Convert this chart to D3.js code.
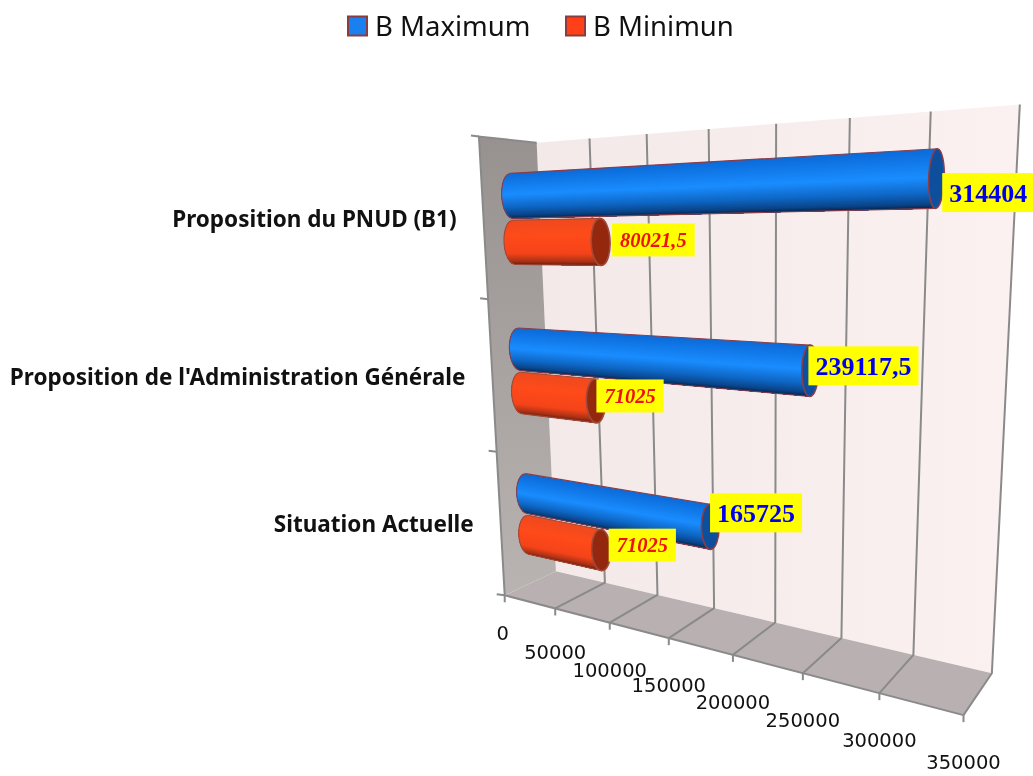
<!DOCTYPE html>
<html><head><meta charset="utf-8">
<script src="https://d3js.org/d3.v7.min.js"></script>
<style>html,body{margin:0;padding:0;background:#fff}svg{display:block;filter:blur(0.45px)}</style>
</head><body><svg id="c" width="1033" height="776"></svg>
<script>
const categories = ["Situation Actuelle","Proposition de l'Administration Générale","Proposition du PNUD (B1)"];
const seriesNames = ["B Maximum","B Minimun"];
const bMaximum = [165725,239117.5,314404];
const bMinimum = [71025,71025,80021.5];
const maxLabels = ["165725","239117,5","314404"];
const minLabels = ["71025","71025","80021,5"];
const xTicks = [0,50000,100000,150000,200000,250000,300000,350000];

// camera calibration: (value fraction, depth, height) -> screen
const anchors = [
 [0,0,0,505,596],[1,0,0,964,715],[0,1,0,556,572],[1,1,0,992,674],
 [0,0,1,478,137],[0,1,1,538,142],[1,1,1,1020,105],
 [3/7,0,0,669,637],[3/7,1,0,713,607],[3/7,1,1,708,129]];
function solve(A,b){
  const n=b.length, M=A.map((r,i)=>[...r,b[i]]);
  for(let i=0;i<n;i++){
    let p=i; for(let k=i+1;k<n;k++) if(Math.abs(M[k][i])>Math.abs(M[p][i])) p=k;
    [M[i],M[p]]=[M[p],M[i]];
    for(let k=i+1;k<n;k++){const f=M[k][i]/M[i][i]; for(let j=i;j<=n;j++) M[k][j]-=f*M[i][j];}
  }
  const x=Array(n).fill(0);
  for(let i=n-1;i>=0;i--){let s=M[i][n]; for(let j=i+1;j<n;j++) s-=M[i][j]*x[j]; x[i]=s/M[i][i];}
  return x;
}
const rows=[],rhs=[];
anchors.forEach(([X,Y,Z,x,y])=>{
  rows.push([X,Y,Z,1,0,0,0,0,-x*X,-x*Y,-x*Z]); rhs.push(x);
  rows.push([0,0,0,0,X,Y,Z,1,-y*X,-y*Y,-y*Z]); rhs.push(y);
});
const ATA=d3.range(11).map(i=>d3.range(11).map(j=>d3.sum(rows,r=>r[i]*r[j])));
const ATb=d3.range(11).map(i=>d3.sum(rows,(r,k)=>r[i]*rhs[k]));
const P=solve(ATA,ATb);
function proj(u,d,h){
  const w=P[8]*u+P[9]*d+P[10]*h+1;
  return [(P[0]*u+P[1]*d+P[2]*h+P[3])/w,(P[4]*u+P[5]*d+P[6]*h+P[7])/w];
}

const svg=d3.select("#c");
const defs=svg.append("defs");
const uScale=d3.scaleLinear().domain([0,350000]).range([0,1]);
const hScale=d3.scaleBand().domain(d3.range(categories.length)).range([0,1]);
const line=d3.line();
const poly=pts=>line(pts)+"Z";

const g1=defs.append("linearGradient").attr("id","wallG").attr("x1",0).attr("x2",1).attr("y1",0).attr("y2",0);
g1.append("stop").attr("offset",0).attr("stop-color","#f4e9e9");
g1.append("stop").attr("offset",1).attr("stop-color","#fbf1f1");
const g2=defs.append("linearGradient").attr("id","sideG").attr("x1",0).attr("x2",0).attr("y1",0).attr("y2",1);
g2.append("stop").attr("offset",0).attr("stop-color","#97918f");
g2.append("stop").attr("offset",1).attr("stop-color","#b9b3b2");

const axisGrey="#8a8a8a";
svg.append("path").attr("d",poly([proj(0,1,0),proj(1,1,0),proj(1,1,1),proj(0,1,1)])).attr("fill","url(#wallG)");
svg.append("path").attr("d",poly([proj(0,0,0),proj(1,0,0),proj(1,1,0),proj(0,1,0)])).attr("fill","#b9b1b1");
svg.append("path").attr("d",poly([proj(0,0,0),proj(0,1,0),proj(0,1,1),proj(0,0,1)])).attr("fill","url(#sideG)");

xTicks.forEach(v=>{
  const u=uScale(v);
  if(v>0) svg.append("path").attr("d",line([proj(u,0,0),proj(u,1,0),proj(u,1,1)])).attr("fill","none").attr("stroke",axisGrey).attr("stroke-width",2);
  const f=proj(u,0,0);
  svg.append("line").attr("x1",f[0]).attr("y1",f[1]).attr("x2",f[0]).attr("y2",f[1]+7).attr("stroke",axisGrey).attr("stroke-width",2);
  const dy = v===0?38:(v===50000?44:47);
  svg.append("text").attr("x",f[0]-(v===0?2:0)).attr("y",f[1]+dy).attr("dy","0.35em").attr("text-anchor","middle")
    .attr("font-family","DejaVu Sans").attr("font-size",19.5).attr("fill","#111").text(v);
});
svg.append("path").attr("d",line([proj(0,1,1),proj(0,0,1),proj(0,0,0),proj(1,0,0)])).attr("fill","none").attr("stroke",axisGrey).attr("stroke-width",2);
d3.range(categories.length+1).forEach(i=>{
  const p=proj(0,0,i/categories.length);
  svg.append("line").attr("x1",p[0]-8).attr("y1",p[1]-1).attr("x2",p[0]).attr("y2",p[1]).attr("stroke",axisGrey).attr("stroke-width",2);
});

const palettes=[
 {stops:[[-1,"#0c6ad8"],[-0.05,"#1a8dff"],[0.5,"#0f66c4"],[0.85,"#0a4488"],[1,"#052650"]],cap:"#0d4f9c",edge:"#8a3d4a"},
 {stops:[[-1,"#ee4a20"],[-0.3,"#ff4b1a"],[0.5,"#f5441a"],[0.85,"#a83216"],[1,"#6e1c0c"]],cap:"#94280f",edge:"#a04a3a"}];
const depth=0.5, radiusH=0.0475, groupShift=[0.0495,-0.0495], nStrips=44;
const rxScale=d3.scaleLinear().domain([0,1]).range([10,7.5]);
const layers=svg.append("g");
const labelLayer=svg.append("g");
const boxDx=[[-9,-10,-2],[-2,-9,2]], boxDy=[[-14,-5,14],[-5,-5,-2]];

function cylinder(v,cat,s,label){
  const pal=palettes[s];
  const col=d3.scaleLinear().domain(pal.stops.map(d=>d[0])).range(pal.stops.map(d=>d[1])).interpolate(d3.interpolateRgb);
  const u=uScale(v), hc=hScale(cat)+hScale.bandwidth()/2+groupShift[s];
  const rim=(uu,t)=>proj(uu,depth,hc-t*radiusH);
  const rx0=rxScale(0), rx1=rxScale(u);
  const g=layers.append("g");
  const T=d3.range(nStrips+1).map(i=>-1+2*i/nStrips);
  const leftPt=t=>{const p=rim(0,t);return [p[0]-rx0*Math.sqrt(Math.max(0,1-t*t)),p[1]];};
  const rightPt=t=>rim(u,t);
  // painter's order: each band runs from its own top down to the bar's bottom
  T.slice(0,-1).forEach((t,i)=>{
    const below=T.slice(i);
    g.append("path").attr("d",poly(below.map(leftPt).concat(below.slice().reverse().map(rightPt))))
      .attr("fill",col((t+T[i+1])/2));
  });
  g.append("path").attr("d",line(T.map(leftPt).reverse())).attr("fill","none").attr("stroke",pal.edge).attr("stroke-width",1.1);
  g.append("path").attr("d",line([leftPt(-1),rightPt(-1)])).attr("stroke",pal.edge).attr("stroke-width",1.1).attr("fill","none");
  g.append("path").attr("d",line([leftPt(1),rightPt(1)])).attr("stroke",pal.edge).attr("stroke-width",1.1).attr("fill","none");
  const a=rim(u,-1), b=rim(u,1), cx=(a[0]+b[0])/2, cy=(a[1]+b[1])/2;
  const ry=Math.hypot(a[0]-b[0],a[1]-b[1])/2, ang=Math.atan2(b[0]-a[0],b[1]-a[1])*180/Math.PI;
  g.append("ellipse").attr("cx",0).attr("cy",0).attr("rx",rx1).attr("ry",ry)
    .attr("transform",`translate(${cx},${cy}) rotate(${-ang})`)
    .attr("fill",pal.cap).attr("stroke",pal.edge).attr("stroke-width",1.6);
  const fs=s===0?26:20.5;
  const lg=labelLayer.append("g");
  const t=lg.append("text").attr("font-family","Liberation Serif").attr("font-weight","bold")
    .attr("font-style",s===0?"normal":"italic").attr("font-size",fs)
    .attr("fill",s===0?"#0000ee":"#ee1111").attr("dy","0.35em").text(label);
  const w=t.node().getComputedTextLength();
  const padX=s===0?7:8, hBox=s===0?39:33;
  const boxX=cx+rx1+boxDx[s][cat];
  const boxCY=cy+boxDy[s][cat];
  lg.insert("rect","text").attr("x",boxX).attr("y",boxCY-hBox/2).attr("width",w+2*padX).attr("height",hBox).attr("fill","#ffff00");
  t.attr("x",boxX+padX).attr("y",boxCY);
}
[2,1,0].forEach(c=>{
  cylinder(bMaximum[c],c,0,maxLabels[c]);
  cylinder(bMinimum[c],c,1,minLabels[c]);
});

categories.forEach((name,i)=>{
  const p=proj(0,0,hScale(i)+hScale.bandwidth()/2);
  svg.append("text").attr("x",p[0]-27).attr("y",p[1]).attr("dy","0.35em").attr("text-anchor","end")
   .attr("font-family","Noto Sans").attr("font-weight","bold").attr("font-size",22.5).attr("fill","#111").text(name);
});

const legendX=[348,566];
const swatch=["#1a80f0","#ff4018"];
seriesNames.forEach((n,i)=>{
  svg.append("rect").attr("x",legendX[i]).attr("y",16.5).attr("width",19).attr("height",19)
    .attr("fill",swatch[i]).attr("stroke","#8a3d3d").attr("stroke-width",2);
  svg.append("text").attr("x",legendX[i]+27).attr("y",26).attr("dy","0.35em")
    .attr("font-family","Noto Sans").attr("font-size",27.5).attr("fill","#111").text(n);
});
</script></body></html>
